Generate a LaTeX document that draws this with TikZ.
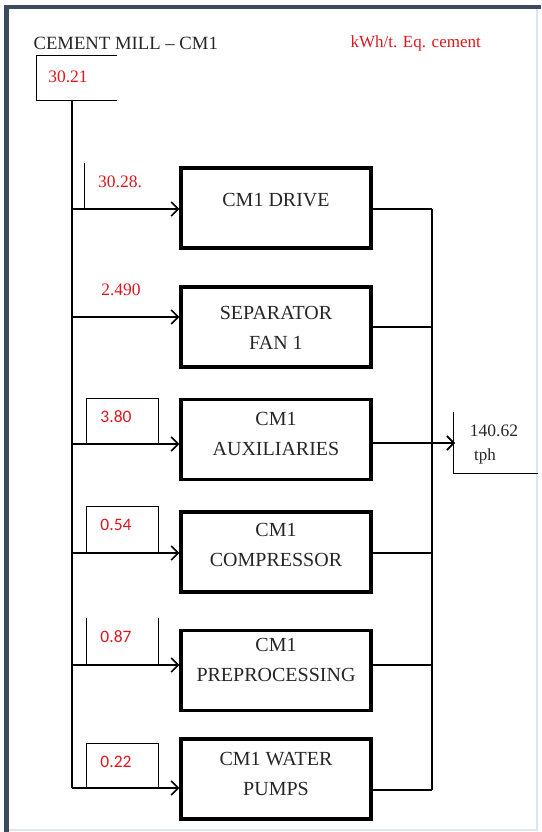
\documentclass[tikz,border=0pt]{standalone}
\usepackage{fontspec}
\setmainfont{Liberation Serif}
\newfontfamily\numfont{Carlito}
\usepackage{tikz}
\usetikzlibrary{arrows.meta,positioning}
\definecolor{frameblue}{HTML}{3B4A5C}
\definecolor{framelite}{HTML}{DCE6F0}
\definecolor{valred}{HTML}{E0161E}

\begin{document}
\begin{tikzpicture}[x=1pt, y=-1pt,
  unit/.style={draw, line width=3.4pt, minimum width=190pt, minimum height=80pt, inner sep=0pt},
  utxt/.style={font=\fontsize{20}{30}\selectfont, align=center, text=black!85},
  val/.style={font=\fontsize{17.5}{20}\selectfont, text=valred},
  valsf/.style={font=\numfont\fontsize{17.5}{20}\selectfont, text=valred},
  wire/.style={line width=1.6pt},
  thinw/.style={line width=0.9pt},
  arr/.style={line width=1.6pt, -{Straight Barb[length=7pt, width=14pt, line width=1.6pt]}}
]
\useasboundingbox (0,0) rectangle (541,832);

%--- frame ---
\fill[framelite] (536,6) rectangle (538,831);
\fill[framelite] (4,829) rectangle (538,831);
\fill[frameblue] (4,5) rectangle (541,9);
\fill[frameblue] (4,5) rectangle (9,832);

%--- heading ---
\node[font=\fontsize{18.7}{22}\selectfont, text=black!85, anchor=west] (title) at (30,43) {CEMENT MILL -- CM1};
\node[font=\fontsize{17}{20}\selectfont, text=valred, anchor=west] (unitlbl) at (347,43) {kWh/t. Eq. cement};

%--- input ---
\draw[thinw] (117,55) -- (36,55) -- (36,100) -- (117,100);
\node[val] (inval) at (68,77) {30.21};
\coordinate (inbot) at (72,100);

%--- units ---
\node[unit] (drive) at (276,208) {};
\node[unit] (sepfan) at (276,327) {};
\node[unit] (aux) at (276,439.5) {};
\node[unit] (comp) at (276,552) {};
\node[unit] (prep) at (276,670.5) {};
\node[unit] (pumps) at (276,779) {};

\node[utxt] (t1) at (276,200) {CM1 DRIVE};
\node[utxt] (t2) at (276,328) {SEPARATOR\\FAN 1};
\node[utxt] (t3) at (276,434) {CM1\\AUXILIARIES};
\node[utxt] (t4) at (276,545) {CM1\\COMPRESSOR};
\node[utxt] (t5) at (276,660) {CM1\\PREPROCESSING};
\node[utxt] (t6) at (276,774) {CM1 WATER\\PUMPS};

%--- feed bus ---
\coordinate (j1) at (72,209);
\coordinate (j2) at (72,317);
\coordinate (j3) at (72,444);
\coordinate (j4) at (72,553);
\coordinate (j5) at (72,665);
\coordinate (j6) at (72,788);
\draw[wire] (inbot) -- (j6);
\draw[arr] (j1) -- (j1 -| drive.west);
\draw[arr] (j2) -- (j2 -| sepfan.west);
\draw[arr] (j3) -- (j3 -| aux.west);
\draw[arr] (j4) -- (j4 -| comp.west);
\draw[arr] (j5) -- (j5 -| prep.west);
\draw[arr] (j6) -- (j6 -| pumps.west);

%--- values ---
\draw[thinw] (84,163) -- (84,209);
\node[val] (v1) at (120,182) {30.28.};
\draw[line width=2.6pt] (87,317) -- (157,317);
\node[val] (v2) at (121,290) {2.490};
\draw[thinw] (86,444) -- (86,398) -- (158,398) -- (158,444);
\node[valsf] (v3) at (116,417) {3.80};
\draw[thinw] (86,553) -- (86,506) -- (158,506) -- (158,553);
\node[valsf] (v4) at (116,525) {0.54};
\draw[thinw] (86,618) -- (86,665);
\draw[thinw] (158,618) -- (158,665);
\node[valsf] (v5) at (116,637) {0.87};
\draw[thinw] (86,788) -- (86,743) -- (158,743) -- (158,788);
\node[valsf] (v6) at (116,762) {0.22};

%--- collector ---
\coordinate (k1) at (432,209);
\coordinate (k2) at (432,327);
\coordinate (k3) at (432,443);
\coordinate (k4) at (432,553);
\coordinate (k5) at (432,665);
\coordinate (k6) at (432,790);
\draw[wire] (k1) -- (k6);
\draw[wire] (k1 -| drive.east) -- (k1);
\draw[wire] (k2 -| sepfan.east) -- (k2);
\draw[wire] (k4 -| comp.east) -- (k4);
\draw[wire] (k5 -| prep.east) -- (k5);
\draw[wire] (k6 -| pumps.east) -- (k6);

%--- output ---
\coordinate (outpt) at (455,443);
\draw[arr] (k3 -| aux.east) -- (outpt);
\draw[thinw] (453,412) -- (453,473) -- (538,473);
\node[font=\fontsize{17.5}{20}\selectfont, text=black!85] (outval) at (494,431) {140.62};
\node[font=\fontsize{17}{20}\selectfont, text=black!85] (outunit) at (485,456) {tph};
\end{tikzpicture}
\end{document}
